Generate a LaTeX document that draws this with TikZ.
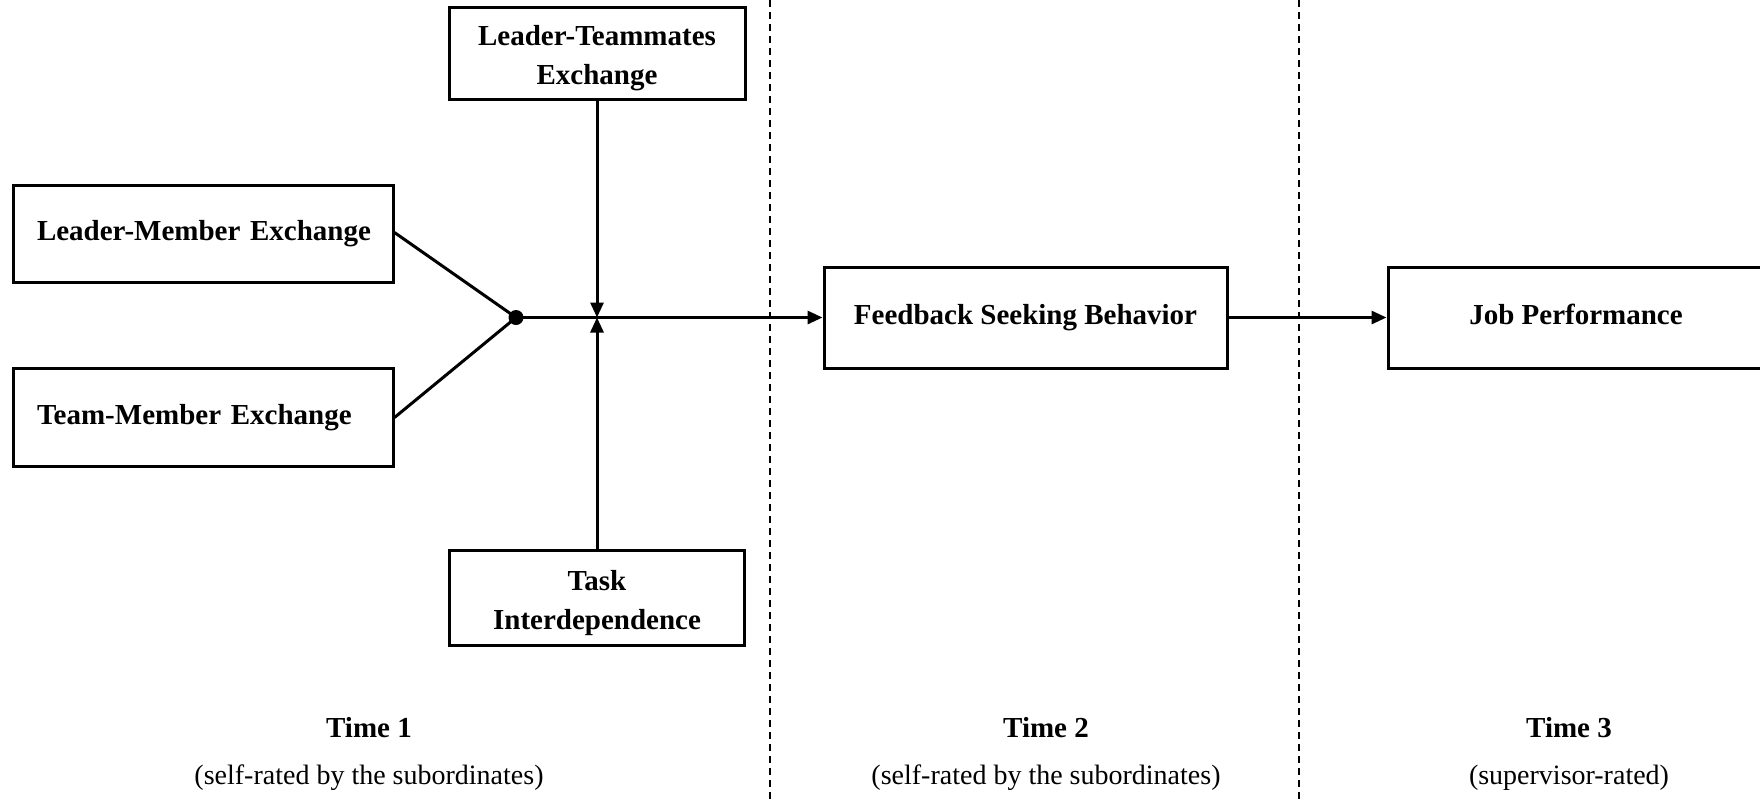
\documentclass[tikz,border=0pt]{standalone}
\usepackage{fontspec}
\setmainfont{Liberation Serif}
\usetikzlibrary{arrows.meta}

\tikzset{
  boxfont/.style={font={\fontsize{14.5}{19.5}\selectfont\bfseries}},
  box/.style={draw, line width=1.5pt, align=center, inner sep=2pt, boxfont,
    text height=10.2pt, text depth=3.1pt},
  leftbox/.style={box, align=left, text width=166pt},
  twoline/.style={draw, line width=1.5pt, inner sep=0pt},
  inside/.style={boxfont, align=center, yshift=-2.8pt},
  link/.style={line width=1.5pt},
  arr/.style={line width=1.5pt, -{Triangle[length=7.5pt,width=6.5pt]}},
  divider/.style={line width=0.7pt, dash pattern=on 3.5pt off 2.5pt},
  timehead/.style={anchor=base, font={\fontsize{14.5}{17}\selectfont\bfseries}},
  timesub/.style={anchor=base, font={\fontsize{14}{17}\selectfont}},
}

\begin{document}
\begin{tikzpicture}[x=0.5pt, y=-0.5pt]
  \useasboundingbox (0,0) rectangle (1760,800);

  % period dividers
  \draw[divider] (770,0) -- (770,800);
  \draw[divider] (1299,0) -- (1299,800);

  % variables
  \node[leftbox, minimum width=190pt, minimum height=48.5pt] (lmx) at (203,233.5) {\mbox{Leader-Member Exchange}};
  \node[leftbox, minimum width=190pt, minimum height=49pt] (tmx) at (203,417.5) {\mbox{Team-Member Exchange}};
  \node[twoline, minimum width=148pt, minimum height=46pt,
        label={[inside]center:Leader-Teammates\\Exchange}] (lte) at (597,53) {};
  \node[twoline, minimum width=147.5pt, minimum height=47.5pt,
        label={[inside]center:Task\\Interdependence}] (ti) at (597,597.5) {};
  \node[box, minimum width=201.5pt, minimum height=50.5pt] (fsb) at (1025.5,317.5) {Feedback Seeking Behavior};
  \node[box, minimum width=188pt, minimum height=50.5pt] (jp) at (1576,317.5) {Job Performance};

  % junction of the two exchange paths
  \node[circle, fill, inner sep=0pt, minimum size=7.5pt] (dot) at (516,317.5) {};
  \coordinate (cross) at (lte.south |- dot);

  % connectors
  \draw[link] (lmx.east |- 0,232.5) -- (dot.center);
  \draw[link] (tmx.east) -- (dot.center);
  \draw[arr] (dot.center) -- (fsb.west);
  \draw[arr] (lte.south) -- (cross);
  \draw[arr] (ti.north) -- (cross);
  \draw[arr] (fsb.east) -- (jp.west);

  % measurement periods
  \node[timehead] (t1) at (369,737) {Time 1};
  \node[timesub] (t1s) at (369,784) {(self-rated by the subordinates)};
  \node[timehead] (t2) at (1046,737) {Time 2};
  \node[timesub] (t2s) at (1046,784) {(self-rated by the subordinates)};
  \node[timehead] (t3) at (1569,737) {Time 3};
  \node[timesub] (t3s) at (1569,784) {(supervisor-rated)};
\end{tikzpicture}
\end{document}
